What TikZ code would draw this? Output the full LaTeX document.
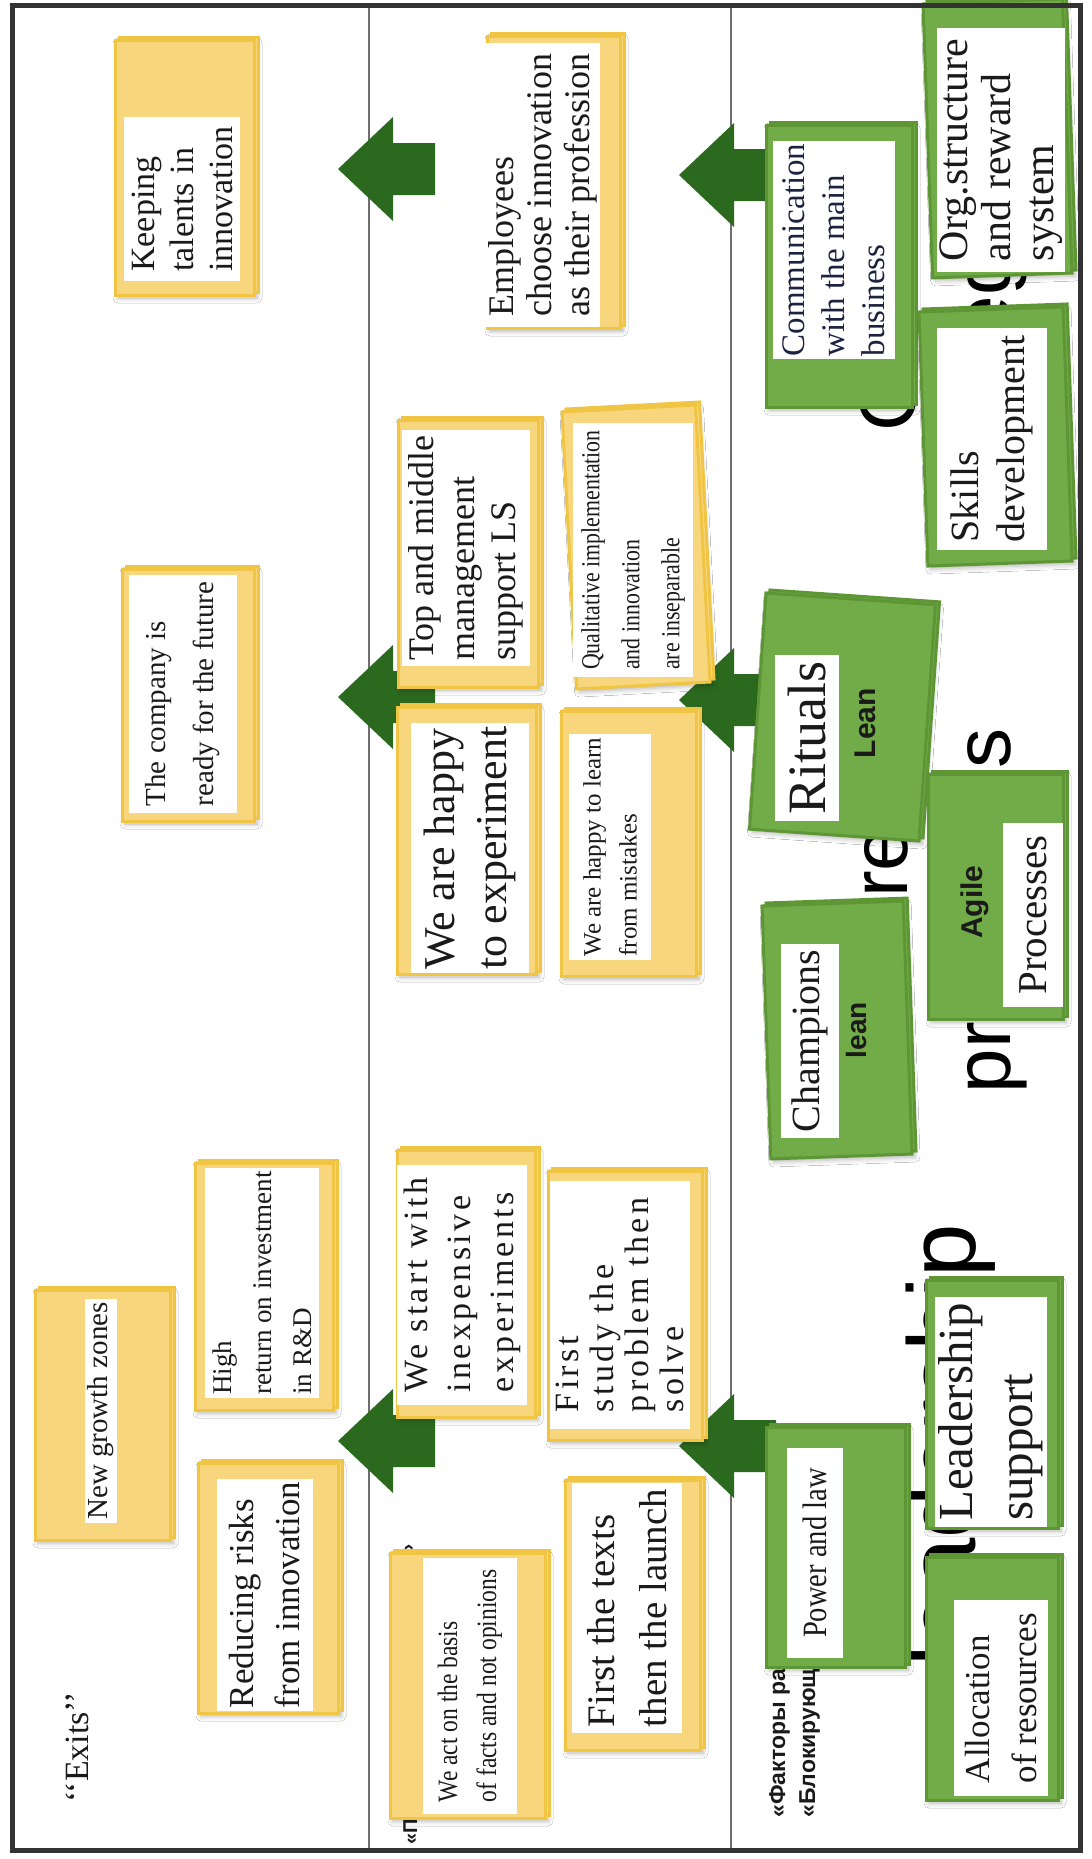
\documentclass[tikz,border=0pt]{standalone}
\usepackage{fontspec}
\setmainfont{Liberation Serif}
\setsansfont{Liberation Sans}
\newfontfamily\narrowserif[FakeStretch=0.84]{Liberation Serif}
\newfontfamily\spacedserif[LetterSpace=10]{Liberation Serif}
\usetikzlibrary{fit, shadows, shadows.blur}
\definecolor{cardyellow}{HTML}{F8D67E}
\definecolor{cardedge}{HTML}{F0C544}
\definecolor{cardgreen}{HTML}{72AC48}
\definecolor{greenedge}{HTML}{5E9636}
\definecolor{arrowgreen}{HTML}{2B6A1E}
\definecolor{ink}{HTML}{1A1A1A}
\definecolor{navytext}{HTML}{1C2340}
\definecolor{frameline}{HTML}{333333}
\definecolor{divider}{HTML}{6E6E6E}
\newcommand{\fsz}[2]{\fontsize{#1}{#2}\selectfont}
\tikzset{
  ycard/.style={fill=cardyellow, draw=cardedge, line width=1.5pt, inner sep=0pt,
                blur shadow={shadow xshift=1.5pt, shadow yshift=-1.5pt, shadow blur radius=2.5pt, shadow opacity=30},
                copy shadow={shadow xshift=2pt, shadow yshift=1.5pt}},
  gcard/.style={fill=cardgreen, draw=greenedge, line width=1.5pt, inner sep=0pt,
                blur shadow={shadow xshift=1.5pt, shadow yshift=-1.5pt, shadow blur radius=2.5pt, shadow opacity=30},
                copy shadow={shadow xshift=2pt, shadow yshift=1.5pt}},
  cardtext/.style={fill=white, rotate=90, align=left, inner sep=1.5pt, text=ink},
  cardtag/.style={rotate=90, inner sep=0pt, text=ink, font={\sffamily\bfseries\fsz{15}{15}}},
  bgword/.style={rotate=90, inner sep=0pt, text=black, font={\sffamily\fsz{40}{40}}},
  cyrtag/.style={rotate=90, inner sep=0pt, text=ink, font={\sffamily\bfseries\fsz{11.5}{11.5}}},
  divline/.style={draw=divider, line width=1pt},
  blockarrow/.pic={\fill[arrowgreen] (0,0) -- (55,-52) -- (55,-26) -- (97,-26)
                   -- (97,26) -- (55,26) -- (55,52) -- cycle;},
}
\begin{document}
\begin{tikzpicture}[x=0.5pt, y=-0.5pt]
\useasboundingbox (0,0) rectangle (1092,1859);
\fill[white] (0,0) rectangle (1092,1859);

% column rules
\draw[divline] (369,5) -- (369,1850);
\draw[divline] (731,5) -- (731,1850);

% big words behind the right column
\node[bgword, font={\sffamily\fsz{48}{48}}, anchor=base west] (wlead) at (975,1667) {leadership};
\node[bgword, anchor=base] (wstruct) at (907,911) {Structure and};
\node[bgword, anchor=base] (wproc) at (1010,911) {processes};
\node[bgword, anchor=base west] (wcult) at (915,432) {Culture};
\node[bgword, anchor=base west] (wstrat) at (1010,496) {strategy};
\node[cyrtag, anchor=base west] (wfact) at (785,1818) {«Факторы развития»};
\node[cyrtag, anchor=base west] (wblock) at (815,1818) {«Блокирующие факторы»};
\node[cyrtag, font={\sffamily\bfseries\fsz{10}{10}}, anchor=base west] (wprA) at (417,1845) {«П};
\node[cyrtag, font={\sffamily\bfseries\fsz{10}{10}}, anchor=base west] (wprB) at (414,1556) {»};

% arrows between the columns
\pic (arrA) at (338,169) {blockarrow};
\pic (arrB) at (338,697) {blockarrow};
\pic (arrC) at (338,1441) {blockarrow};
\pic (arrD) at (679,175) {blockarrow};
\pic (arrE) at (679,700) {blockarrow};
\pic (arrF) at (679,1446) {blockarrow};

% exits
\node[ycard, fit={(115,40) (254,295)}] (keep) {};
\node[cardtext, font={\fsz{17}{19.5}}, minimum width=82pt, minimum height=58pt] (keepT) at (182,199) {Keeping\\talents in\\innovation};
\node[ycard, fit={(122,569) (254,821)}] (ready) {};
\node[cardtext, font={\fsz{14.5}{24}}, minimum width=119pt, minimum height=54pt] (readyT) at (183,694) {The company is\\ready for the future};
\node[ycard, fit={(35,1290) (170,1540)}] (newg) {};
\node[cardtext, font={\fsz{14.5}{16}}, minimum width=108pt, minimum height=16pt] (newgT) at (101,1411) {New growth zones};
\node[ycard, fit={(195,1163) (333,1410)}] (high) {};
\node[cardtext, font={\fsz{13.5}{20}}, minimum width=115pt, minimum height=57pt] (highT) at (262,1283) {High\\return on investment\\in R\&D};
\node[ycard, fit={(198,1463) (338,1713)}] (reduce) {};
\node[cardtext, font={\fsz{17.5}{23}}, minimum width=112pt, minimum height=48pt] (reduceT) at (265,1595) {Reducing risks\\from innovation};
\node[rotate=90, text=ink, font={\fsz{17}{17}}] (exits) at (77,1747) {‘‘Exits’’};

% principles
\node[ycard, fit={(487,36) (620,328)}] (employ) {};
\node[cardtext, font={\fsz{18}{19}}, minimum width=142pt, minimum height=56pt] (employT) at (543,185) {Employees\\choose innovation\\as their profession};
\node[ycard, fit={(398,420) (538,687)}] (topmid) {};
\node[cardtext, font={\fsz{18}{20.5}}, minimum width=118pt, minimum height=64pt] (topmidT) at (466,548) {Top and middle\\management\\support LS};
\node[ycard, rotate fit=3, fit={(562,412) (710,682)}] (qual) {};
\node[cardtext, font={\narrowserif\fsz{13}{20}}, minimum width=127pt, minimum height=60pt] (qualT) at (633,550) {Qualitative implementation\\and innovation\\are inseparable};
\node[ycard, fit={(397,707) (536,974)}] (exper) {};
\node[cardtext, font={\fsz{22}{26}}, minimum width=124pt, minimum height=59pt] (experT) at (470,848) {We are happy\\to experiment};
\node[ycard, fit={(561,711) (696,976)}] (learn) {};
\node[cardtext, font={\fsz{12.5}{18}}, minimum width=113pt, minimum height=41pt] (learnT) at (610,847) {We are happy to learn\\from mistakes};
\node[ycard, fit={(397,1150) (535,1417)}] (start) {};
\node[cardtext, font={\spacedserif\fsz{17}{21.5}}, minimum width=120pt, minimum height=65pt] (startT) at (462,1285) {We start with\\inexpensive\\experiments};
\node[ycard, fit={(548,1171) (702,1440)}] (study) {};
\node[cardtext, font={\spacedserif\fsz{17}{17.5}}, minimum width=124pt, minimum height=70pt] (studyT) at (620,1305) {First\\study the\\problem then\\solve};
\node[ycard, fit={(390,1553) (545,1818)}] (facts) {};
\node[cardtext, font={\narrowserif\fsz{14}{19.5}}, minimum width=128pt, minimum height=47pt] (factsT) at (470,1686) {We act on the basis\\of facts and not opinions};
\node[ycard, fit={(565,1480) (700,1750)}] (launch) {};
\node[cardtext, font={\fsz{19.5}{26}}, minimum width=125pt, minimum height=55pt] (launchT) at (627,1608) {First the texts\\then the launch};

% factors
\node[gcard, rotate fit=2, fit={(923,4) (1072,273)}] (org) {};
\node[cardtext, font={\fsz{21}{21.5}}, minimum width=122pt, minimum height=64pt] (orgT) at (1001,150) {Org.structure\\and reward\\system};
\node[gcard, fit={(766,125) (912,407)}] (comm) {};
\node[cardtext, text=navytext, font={\fsz{16.5}{20}}, minimum width=108pt, minimum height=61pt] (commT) at (834,250) {Communication\\with the main\\business};
\node[gcard, rotate fit=2, fit={(919,312) (1072,561)}] (skills) {};
\node[cardtext, font={\fsz{20}{23}}, minimum width=111pt, minimum height=55pt] (skillsT) at (992,439) {Skills\\development};
\node[gcard, rotate fit=-4, fit={(766,593) (919,841)}] (rituals) {};
\node[cardtext, font={\fsz{27}{27}}, minimum width=83pt, minimum height=32pt] (ritualsT) at (807,738) {Rituals};
\node[cardtag] (ritualsL) at (865,723) {Lean};
\node[gcard, fit={(928,774) (1063,1019)}] (agile) {};
\node[cardtag] (agileL) at (975,902) {Agile};
\node[cardtext, font={\fsz{20.5}{20.5}}, minimum width=92pt, minimum height=30pt] (agileT) at (1033,915) {Processes};
\node[gcard, rotate fit=2, fit={(762,906) (912,1154)}] (champ) {};
\node[cardtext, font={\fsz{20}{20}}, minimum width=97pt, minimum height=29pt] (champT) at (810,1041) {Champions};
\node[cardtag, font={\sffamily\bfseries\fsz{14}{14}}] (champL) at (856,1030) {lean};
\node[gcard, fit={(766,1427) (905,1667)}] (power) {};
\node[cardtext, font={\narrowserif\fsz{17}{17}}, minimum width=105pt, minimum height=28pt] (powerT) at (815,1553) {Power and law};
\node[gcard, fit={(926,1280) (1058,1528)}] (lead) {};
\node[cardtext, font={\fsz{24.5}{30}}, minimum width=115pt, minimum height=56pt] (leadT) at (991,1412) {Leadership\\support};
\node[gcard, fit={(926,1557) (1058,1800)}] (alloc) {};
\node[cardtext, font={\fsz{17.5}{23.5}}, minimum width=98pt, minimum height=47pt] (allocT) at (1001,1698) {Allocation\\of resources};

% outer frame
\draw[frameline, line width=2.5pt] (12,5) rectangle (1080,1850);
\end{tikzpicture}
\end{document}
